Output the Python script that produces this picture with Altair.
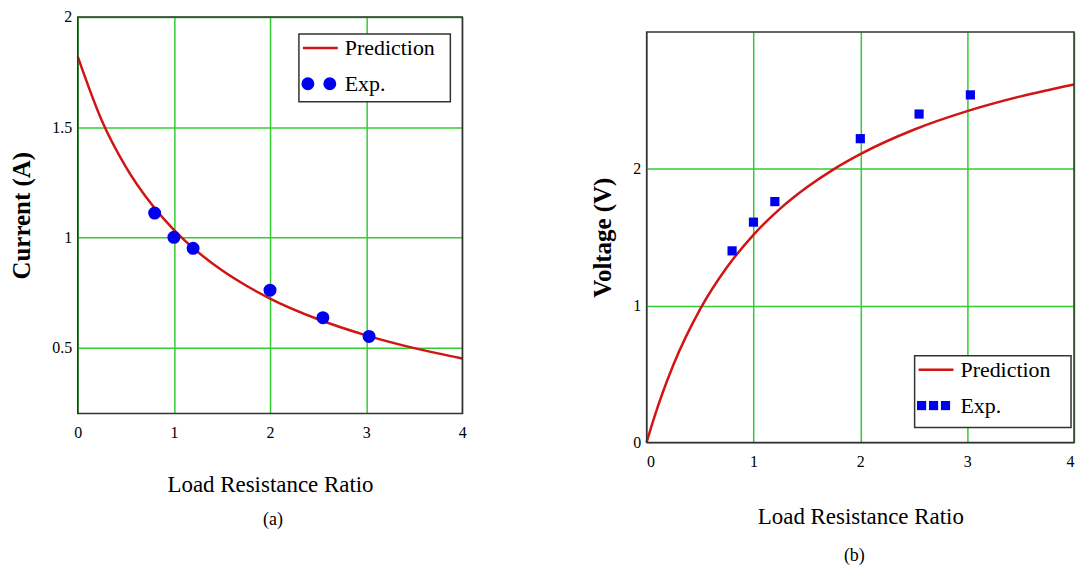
import altair as alt
import pandas as pd

# ---------------- data ----------------
ratio_exp = [0.8, 1.0, 1.2, 2.0, 2.55, 3.03]
current_exp = [1.11, 1.0, 0.95, 0.76, 0.635, 0.55]
voltage_exp = [1.40, 1.61, 1.76, 2.22, 2.40, 2.54]

ratio_curve_a = [0, 0.25, 0.5, 0.75, 1, 1.25, 1.5, 1.75, 2, 2.5, 3, 3.5, 4]
current_pred = [1.82, 1.53, 1.32, 1.16, 1.034, 0.933, 0.85, 0.781, 0.722, 0.628, 0.555, 0.497, 0.45]

ratio_curve_b = [0, 0.05, 0.1, 0.15, 0.25, 0.5, 0.75, 1, 1.25, 1.5, 1.75, 2, 2.5, 3, 3.5, 4]
voltage_pred = [0, 0.13, 0.251, 0.363, 0.566, 0.972, 1.278, 1.517, 1.709, 1.865, 1.996, 2.107,
                2.285, 2.421, 2.529, 2.616]

x_ticks = [0, 1, 2, 3, 4]
current_ticks = [0.5, 1, 1.5, 2]
voltage_ticks = [0, 1, 2]

legend_labels = ["Prediction", "Exp."]
x_title = "Load Resistance Ratio"

# ---------------- styling ----------------
FONT = "Liberation Serif"
RED = "#d11414"
BLUE = "#0000f0"
GREEN = "#33cc33"
FRAME = "#333333"

exp_df = pd.DataFrame({"ratio": ratio_exp, "current": current_exp, "voltage": voltage_exp})
pred_a = pd.DataFrame({"ratio": ratio_curve_a, "current": current_pred})
pred_b = pd.DataFrame({"ratio": ratio_curve_b, "voltage": voltage_pred})
one = pd.DataFrame({"k": [0]})


def x_enc(flush=False, title_pad=34):
    return alt.X("ratio:Q", scale=alt.Scale(domain=[0, 4], nice=False),
                 axis=alt.Axis(values=x_ticks, format="~g", title=x_title,
                               titleFontWeight="normal", titleFontSize=23,
                               labelPadding=11, titlePadding=title_pad, labelFlush=flush,
                               gridColor=GREEN, gridWidth=1.5))


def y_axis(ticks, title):
    return alt.Axis(values=ticks, format="~g", title=title, titleFontWeight="bold",
                    titleFontSize=25, labelPadding=6, titlePadding=17,
                    gridColor=GREEN, gridWidth=1.5)


def frame(w, h):
    return alt.Chart(one).mark_rect(fill=None, stroke=FRAME, strokeWidth=1.5).encode(
        x=alt.value(0), x2=alt.value(w), y=alt.value(0), y2=alt.value(h))


def legend(x0, y0, w, h, symbols, square):
    layers = [
        alt.Chart(one).mark_rect(fill="white", stroke=FRAME, strokeWidth=1.5).encode(
            x=alt.value(x0), x2=alt.value(x0 + w), y=alt.value(y0), y2=alt.value(y0 + h)),
        alt.Chart(one).mark_rule(color=RED, strokeWidth=2.5).encode(
            x=alt.value(x0 + 4), x2=alt.value(x0 + 39), y=alt.value(y0 + 14)),
        alt.Chart(one).mark_text(font=FONT, fontSize=22, align="left", baseline="middle",
                                 text=legend_labels[0], color="black").encode(
            x=alt.value(x0 + 46), y=alt.value(y0 + 14)),
        alt.Chart(one).mark_text(font=FONT, fontSize=22, align="left", baseline="middle",
                                 text=legend_labels[1], color="black").encode(
            x=alt.value(x0 + 46), y=alt.value(y0 + 50)),
    ]
    for sx in symbols:
        if square:
            m = alt.Chart(one).mark_square(color=BLUE, opacity=1, size=85)
        else:
            m = alt.Chart(one).mark_circle(color=BLUE, opacity=1, size=170)
        layers.append(m.encode(x=alt.value(x0 + sx), y=alt.value(y0 + 50)))
    return layers


# ---------------- panel (a) ----------------
WA, HA = 386, 398
line_a = alt.Chart(pred_a).mark_line(color=RED, strokeWidth=2.5, interpolate="monotone").encode(
    x=x_enc(title_pad=33),
    y=alt.Y("current:Q", scale=alt.Scale(domain=[0.2, 2], nice=False),
            axis=y_axis(current_ticks, "Current (A)")))
pts_a = alt.Chart(exp_df).mark_circle(color=BLUE, opacity=1, size=170).encode(
    x="ratio:Q", y="current:Q")
label_a = alt.Chart(one).mark_text(font=FONT, fontSize=18, text="(a)", color="black").encode(
    x=alt.value(WA / 2 + 3), y=alt.value(HA + 107))

panel_a = alt.layer(line_a, pts_a, frame(WA, HA),
                    *legend(222, 17, 152, 68, [9, 31], False), label_a).properties(
    width=WA, height=HA)

# ---------------- panel (b) ----------------
WB, HB = 429, 412
line_b = alt.Chart(pred_b).mark_line(color=RED, strokeWidth=2.5, interpolate="monotone").encode(
    x=x_enc(flush=True, title_pad=36),
    y=alt.Y("voltage:Q", scale=alt.Scale(domain=[0, 3], nice=False),
            axis=y_axis(voltage_ticks, "Voltage (V)")))
pts_b = alt.Chart(exp_df).mark_square(color=BLUE, opacity=1, size=85).encode(
    x="ratio:Q", y="voltage:Q")
label_b = alt.Chart(one).mark_text(font=FONT, fontSize=18, text="(b)", color="black").encode(
    x=alt.value(WB / 2 - 6), y=alt.value(HB + 114))

panel_b = alt.layer(line_b, pts_b, frame(WB, HB),
                    *legend(269, 325, 157, 72, [7, 19, 31], True), label_b).properties(
    width=WB, height=HB)

spacer = alt.Chart(one).mark_point(opacity=0).encode(
    x=alt.value(0), y=alt.value(0)).properties(width=100, height=14)

right = alt.vconcat(spacer, panel_b, spacing=0)

chart = alt.hconcat(panel_a, right, spacing=124).properties(
    padding={"left": 2, "top": 0, "right": 0, "bottom": 0}
).configure_view(stroke=None).configure_axis(
    labelFont=FONT, labelFontSize=16, labelColor="black",
    titleFont=FONT, titleColor="black",
    ticks=False, tickSize=0, domain=False, grid=True, gridOpacity=1
).configure_title(font=FONT)

chart.save("out.html", embed_options={"renderer": "svg", "actions": False})
